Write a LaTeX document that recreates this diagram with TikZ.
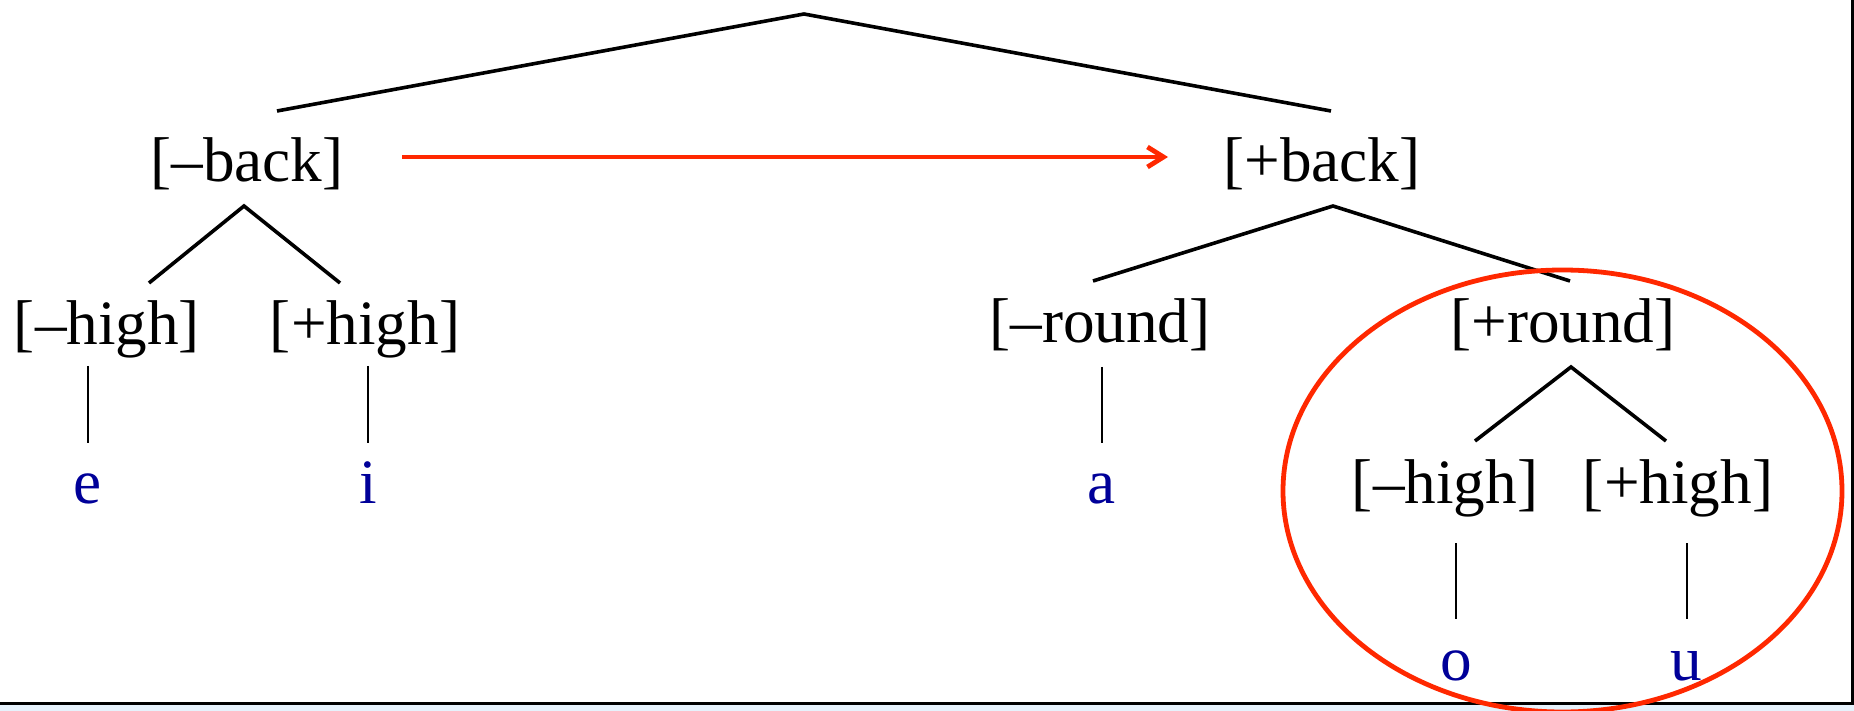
\documentclass[tikz,border=0pt]{standalone}
\usepackage{fontspec}
\setmainfont{Liberation Serif}
\usetikzlibrary{arrows.meta}
\definecolor{leafblue}{RGB}{0,0,153}
\definecolor{hlred}{RGB}{255,40,0}
\definecolor{framebg}{RGB}{230,242,252}
\begin{document}
\begin{tikzpicture}[x=0.5pt,y=-0.5pt,
  feat/.style={font=\fontsize{31.6}{36}\selectfont, inner sep=0pt, anchor=base},
  leaf/.style={feat, text=leafblue},
  branch/.style={line width=1.8pt},
  stem/.style={line width=1.1pt},
  highlight/.style={draw=hlred, line width=2.4pt}]
\useasboundingbox (0,0) rectangle (1854,711);
\fill[white] (0,0) rectangle (1854,711);
\fill[framebg] (0,704) rectangle (1854,711);
\fill[framebg] (1853,0) rectangle (1854,711);
\draw[line width=1.5pt] (1852,0) -- (1852,703) -- (0,703);

% labels
\node[feat] (nb) at (247,182) {[–back]};
\node[feat] (pb) at (1322,182) {[+back]};
\node[feat] (nh1) at (107,345) {[–high]};
\node[feat] (ph1) at (365,345) {[+high]};
\node[feat] (nr) at (1100,343) {[–round]};
\node[feat] (pr) at (1563,343) {[+round]};
\node[feat] (nh2) at (1445,503) {[–high]};
\node[feat] (ph2) at (1678,503) {[+high]};
\node[leaf] (e) at (88,503) {e};
\node[leaf] (i) at (368,503) {i};
\node[leaf] (a) at (1102,503) {a};
\node[leaf] (o) at (1456,680) {o};
\node[leaf] (u) at (1686,680) {u};

% branch points
\coordinate (root) at (804,14);
\coordinate (rl) at (277,111);
\coordinate (rr) at (1331,111);
\coordinate (bA) at (244,206);
\coordinate (bL) at (149,283);
\coordinate (bR) at (340,283);
\coordinate (pA) at (1333,206);
\coordinate (pL) at (1093,281);
\coordinate (pR) at (1570,281);
\coordinate (rA) at (1571,367);
\coordinate (rL) at (1475,441);
\coordinate (rR) at (1666,441);
\coordinate (eT) at (88,366);   \coordinate (eB) at (88,443);
\coordinate (iT) at (368,366);  \coordinate (iB) at (368,443);
\coordinate (aT) at (1102,367); \coordinate (aB) at (1102,443);
\coordinate (oT) at (1456,543); \coordinate (oB) at (1456,619);
\coordinate (uT) at (1687,543); \coordinate (uB) at (1687,619);
\coordinate (arrS) at (402,157);
\coordinate (arrE) at (1168,157);

\draw[branch] (rl) -- (root) -- (rr);
\draw[branch] (bL) -- (bA) -- (bR);
\draw[branch] (pL) -- (pA) -- (pR);
\draw[branch] (rL) -- (rA) -- (rR);
\draw[stem] (eT) -- (eB);
\draw[stem] (iT) -- (iB);
\draw[stem] (aT) -- (aB);
\draw[stem] (oT) -- (oB);
\draw[stem] (uT) -- (uB);

\draw[highlight, -{Straight Barb[length=8pt,width=10pt]}] (arrS) -- (arrE);
\draw[highlight] (1562.5,491) ellipse [x radius=139.75pt, y radius=110.5pt];
\end{tikzpicture}
\end{document}
